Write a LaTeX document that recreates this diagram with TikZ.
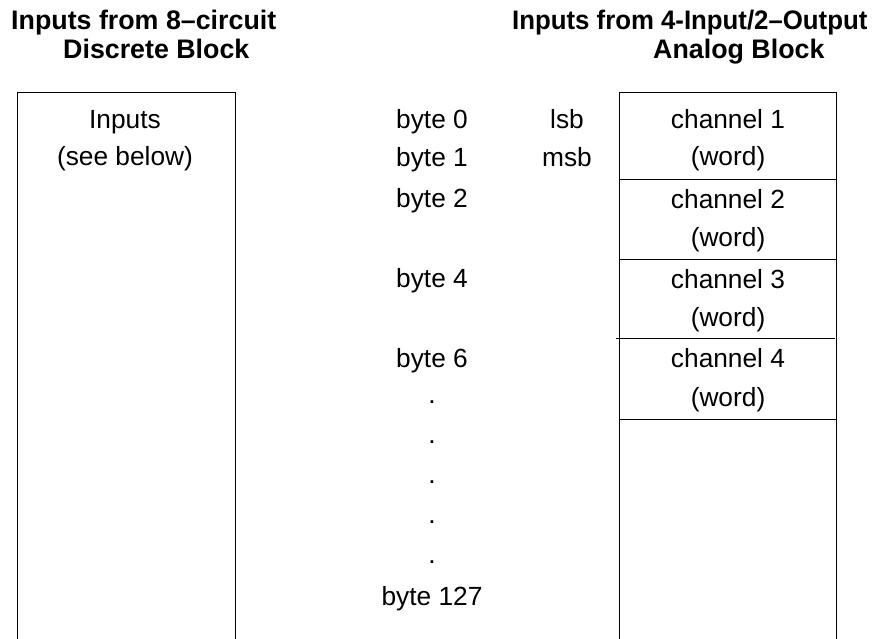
\documentclass[tikz,border=0pt]{standalone}
\usepackage{fontspec}
\setmainfont{Liberation Sans}
\begin{document}
\begin{tikzpicture}[x=1pt,y=-1pt,
  txt/.style={font=\fontsize{26.3}{30}\selectfont, inner sep=0pt, anchor=base},
  head/.style={font=\fontsize{26.8}{30}\selectfont\bfseries, inner sep=0pt, anchor=base west},
  frame/.style={line width=1pt, black}]
\useasboundingbox (0,0) rectangle (885,639);
% headings
\node[head] (h1a) at (11,30) {Inputs from 8–circuit};
\node[head] (h1b) at (63,59) {Discrete Block};
\node[head] (h2a) at (512,30) {\scalebox{0.962}[1]{Inputs from 4-Input/2–Output}};
\node[head] (h2b) at (653,59) {Analog Block};
% left box
\draw[frame] (17.5,639) -- (17.5,92.5) -- (235.5,92.5) -- (235.5,639);
\node[txt] (in1) at (125,129) {Inputs};
\node[txt] (in2) at (125,166) {(see below)};
% right box
\draw[frame] (619.5,639) -- (619.5,92.5) -- (836.5,92.5) -- (836.5,639);
\draw[frame] (619.5,179) -- (836.5,179);
\draw[frame] (619.5,259) -- (836.5,259);
\draw[frame] (616,338) -- (835,338);
\draw[frame] (619.5,419) -- (836.5,419);
\node[txt] (c1) at (728,129) {channel 1};
\node[txt] (w1) at (728,166) {(word)};
\node[txt] (c2) at (728,208) {channel 2};
\node[txt] (w2) at (728,246) {(word)};
\node[txt] (c3) at (728,288) {channel 3};
\node[txt] (w3) at (728,326) {(word)};
\node[txt] (c4) at (728,367) {channel 4};
\node[txt] (w4) at (728,406) {(word)};
% byte column
\node[txt] (b0) at (432,129) {byte 0};
\node[txt] (b1) at (432,167) {byte 1};
\node[txt] (b2) at (432,207) {byte 2};
\node[txt] (b4) at (432,287) {byte 4};
\node[txt] (b6) at (432,367) {byte 6};
\node[txt] (d1) at (432,403) {.};
\node[txt] (d2) at (432,443) {.};
\node[txt] (d3) at (432,483) {.};
\node[txt] (d4) at (432,523) {.};
\node[txt] (d5) at (432,563) {.};
\node[txt] (b127) at (432,605) {byte 127};
\node[txt] (lsb) at (567,129) {lsb};
\node[txt] (msb) at (567,167) {msb};
\end{tikzpicture}
\end{document}
